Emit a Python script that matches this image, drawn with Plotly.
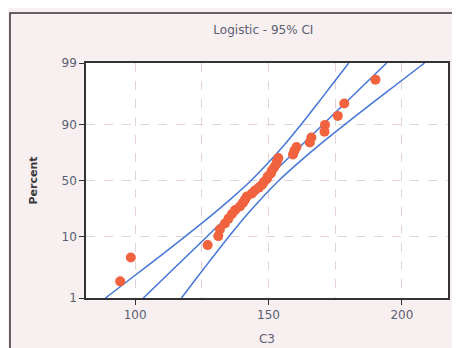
import numpy as np
import plotly.graph_objects as go

# ---- data ----
c3_values = [94.4, 98.4, 127.2, 131.2, 131.8, 133.7, 135.0, 136.3, 137.5, 139.3,
             140.4, 141.2, 141.9, 143.8, 144.9, 146.4, 147.6, 148.3, 149.4, 149.8,
             150.9, 151.3, 152.1, 152.8, 153.2, 153.7, 159.2, 159.7, 160.5, 165.5,
             166.1, 171.0, 171.2, 176.0, 178.4, 190.1]
c3_percent = [1.9, 4.7, 7.4, 10.2, 12.9, 15.7, 18.4, 21.2, 23.9, 26.6,
              29.4, 32.1, 34.9, 37.6, 40.4, 43.1, 45.9, 48.6, 51.4, 54.1,
              56.9, 59.6, 62.4, 65.1, 67.9, 70.6, 73.4, 76.1, 78.8, 81.6,
              84.3, 87.1, 89.8, 92.6, 95.3, 98.1]

fit_percent = [1, 99]
fit_x = [103.1, 194.3]

ci_percent = [1, 2, 5, 10, 20, 30, 50, 70, 80, 90, 95, 98, 99]
ci_lower_x = [88.9, 97.7, 109.5, 118.7, 128.4, 134.5, 143.5, 151.3, 155.9, 162.3, 167.9, 174.9, 180.1]
ci_upper_x = [117.4, 122.5, 129.5, 135.1, 141.5, 146.1, 153.9, 162.9, 169.0, 178.7, 187.9, 199.7, 208.5]

y_tick_percent = [1, 10, 50, 90, 99]
y_tick_labels = ["1", "10", "50", "90", "99"]
x_tick_vals = [100, 150, 200]
x_minor_grid = [125, 175]

title_text = "Logistic - 95% CI"
x_title = "C3"
y_title = "Percent"


def logit(p):
    p = np.asarray(p, dtype=float) / 100.0
    return np.log(p / (1 - p))


line_color = "#4676d8"
point_color = "#f1633f"

fig = go.Figure()
fig.add_trace(go.Scatter(x=ci_lower_x, y=logit(ci_percent), mode="lines",
                         line=dict(color=line_color, width=1.5, shape="spline"),
                         hoverinfo="skip", showlegend=False))
fig.add_trace(go.Scatter(x=ci_upper_x, y=logit(ci_percent), mode="lines",
                         line=dict(color=line_color, width=1.5, shape="spline"),
                         hoverinfo="skip", showlegend=False))
fig.add_trace(go.Scatter(x=fit_x, y=logit(fit_percent), mode="lines",
                         line=dict(color=line_color, width=1.5),
                         hoverinfo="skip", showlegend=False))
fig.add_trace(go.Scatter(x=c3_values, y=logit(c3_percent), mode="markers",
                         marker=dict(color=point_color, size=10),
                         showlegend=False))

font_fam = "DejaVu Sans, Verdana, sans-serif"
grid_col = "#e3d3d9"
text_col = "#5a6070"

# page has an 8px body margin; figure sized so plot area lands at x 86..448, y 63..298
L, R, T, B = 78, 12, 55, 50
W, H = 452, 340
pw, ph = W - L - R, H - T - B

fig.update_layout(
    width=W, height=H,
    margin=dict(l=L, r=R, t=T, b=B, autoexpand=False),
    paper_bgcolor="#f8eff1",
    plot_bgcolor="#ffffff",
    font=dict(family=font_fam, size=12, color=text_col),
    title=dict(text=title_text, x=0.565, xanchor="center", y=(H - 22) / H, yanchor="middle",
               font=dict(size=12, color=text_col)),
    xaxis=dict(
        range=[81.6, 217.3], tickvals=x_tick_vals, ticks="outside", ticklen=5,
        tickcolor="#333", showline=True, linecolor="#333", linewidth=1.5, mirror=True,
        showgrid=True, gridcolor=grid_col, griddash="dash", gridwidth=1,
        minor=dict(tickvals=x_minor_grid, showgrid=True, gridcolor=grid_col,
                   griddash="dash", ticks=""),
        zeroline=False, automargin=False,
        title=dict(text=x_title, standoff=13, font=dict(size=12, color=text_col)),
    ),
    yaxis=dict(
        range=[float(logit(1)), float(logit(99))], tickvals=list(logit(y_tick_percent)),
        ticktext=y_tick_labels, ticks="outside", ticklen=5, tickcolor="#333",
        showline=True, linecolor="#333", linewidth=1.5, mirror=True,
        showgrid=True, gridcolor=grid_col, griddash="dash", gridwidth=1,
        zeroline=False, automargin=False,
        title=dict(text="<b>" + y_title + "</b>", standoff=22,
                   font=dict(size=11, color="#3a3a3a")),
    ),
    shapes=[dict(type="rect", xref="paper", yref="paper",
                 x0=(2 - L) / pw, x1=(447 - L) / pw,
                 y0=(T + ph - 345) / ph, y1=(T + ph - 5) / ph,
                 line=dict(color="#333", width=1.5), layer="below")],
)

fig.write_html("out.html")
